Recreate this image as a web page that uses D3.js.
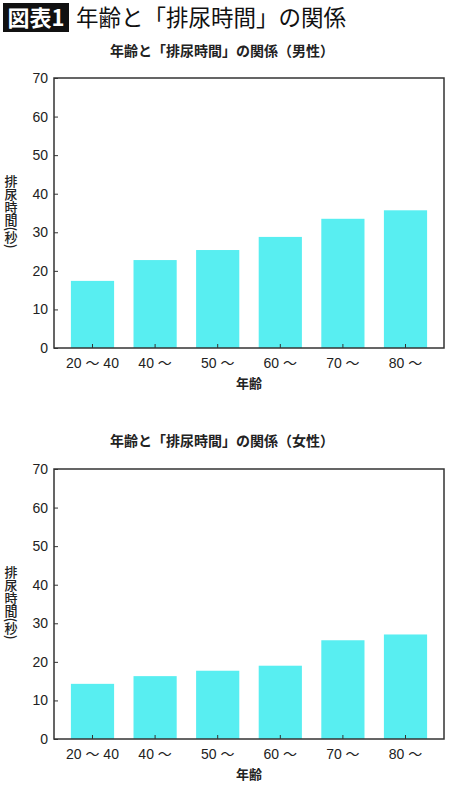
<!DOCTYPE html>
<html>
<head>
<meta charset="utf-8">
<script src="https://cdn.jsdelivr.net/npm/d3@7"></script>
<style>
  body { margin: 0; background: #fff; }
  svg { display: block; }
</style>
</head>
<body>
<svg id="chart" width="450" height="788"></svg>
<script>
'use strict';

var WIDTH = 450;
var HEIGHT = 788;

var categories = ["20 〜 40", "40 〜", "50 〜", "60 〜", "70 〜", "80 〜"];
var maleValues = [17.4, 22.8, 25.4, 28.8, 33.5, 35.7];
var femaleValues = [14.3, 16.3, 17.7, 19.0, 25.6, 27.1];
var yTicks = [0, 10, 20, 30, 40, 50, 60, 70];

var headerTag = "図表1";
var headerTitle = "年齢と「排尿時間」の関係";
var maleTitle = "年齢と「排尿時間」の関係（男性）";
var femaleTitle = "年齢と「排尿時間」の関係（女性）";
var yTitle = "排尿時間(秒)";
var xTitle = "年齢";

var JP = "'Noto Sans CJK JP', sans-serif";
var NUM = "'Liberation Sans', 'Noto Sans CJK JP', sans-serif";
var BAR_COLOR = "#58eef1";

var svg = d3.select("#chart");

// header
svg.append("rect")
.attr("x", 3).attr("y", 3)
.attr("width", 66).attr("height", 29)
.attr("fill", "#111");

svg.append("text")
.attr("x", 36).attr("y", 26)
.attr("text-anchor", "middle")
.attr("fill", "#fff")
.attr("font-family", JP)
.attr("font-weight", 700)
.attr("font-size", 22)
.text(headerTag);

svg.append("text")
.attr("x", 76).attr("y", 26)
.attr("fill", "#111")
.attr("font-family", JP)
.attr("font-weight", 400)
.attr("font-size", 22.5)
.text(headerTitle);

var x = d3.scaleBand()
.domain(categories)
.range([54, 444])
.paddingInner(0.31)
.paddingOuter(0.27);

function drawChart(title, values, titleY, yTop, yBottom)
{
  var y = d3.scaleLinear()
  .domain([0, 70])
  .range([yBottom, yTop]);

  var g = svg.append("g");

  g.append("text")
  .attr("x", 222).attr("y", titleY)
  .attr("text-anchor", "middle")
  .attr("font-family", JP)
  .attr("font-weight", 700)
  .attr("font-size", 14)
  .attr("fill", "#222")
  .text(title);

  g.selectAll("rect.bar")
  .data(values)
  .enter().append("rect")
  .attr("class", "bar")
  .attr("x", function(d, i){ return x(categories[i]); })
  .attr("y", function(d){ return y(d); })
  .attr("width", x.bandwidth())
  .attr("height", function(d){ return y(0) - y(d); })
  .attr("fill", BAR_COLOR);

  // y axis: ticks point inward
  var yAxis = g.append("g")
  .attr("transform", "translate(54,0)")
  .call(d3.axisRight(y).tickValues(yTicks).tickSize(4).tickFormat(""));
  yAxis.select(".domain").remove();
  yAxis.selectAll("line").attr("stroke", "#333");

  g.selectAll("text.ytick")
  .data(yTicks)
  .enter().append("text")
  .attr("class", "ytick")
  .attr("x", 48)
  .attr("y", function(d){ return y(d) + 5; })
  .attr("text-anchor", "end")
  .attr("font-family", NUM)
  .attr("font-size", 14)
  .attr("fill", "#222")
  .text(function(d){ return d; });

  // x axis: ticks point inward
  var xAxis = g.append("g")
  .attr("transform", "translate(0," + yBottom + ")")
  .call(d3.axisTop(x).tickSize(4).tickFormat(""));
  xAxis.select(".domain").remove();
  xAxis.selectAll("line").attr("stroke", "#333");

  g.selectAll("text.xtick")
  .data(categories)
  .enter().append("text")
  .attr("class", "xtick")
  .attr("x", function(d){ return x(d) + x.bandwidth() / 2; })
  .attr("y", yBottom + 20)
  .attr("text-anchor", "middle")
  .attr("font-family", NUM)
  .attr("font-size", 14)
  .attr("fill", "#222")
  .text(function(d){ return d; });

  // frame
  g.append("rect")
  .attr("x", 54).attr("y", yTop)
  .attr("width", 390).attr("height", yBottom - yTop)
  .attr("fill", "none")
  .attr("stroke", "#333")
  .attr("stroke-width", 1.5);

  g.append("text")
  .attr("x", 249).attr("y", yBottom + 40)
  .attr("text-anchor", "middle")
  .attr("font-family", JP)
  .attr("font-weight", 700)
  .attr("font-size", 13)
  .attr("fill", "#222")
  .text(xTitle);

  // vertical y title; half-width parens lie sideways
  g.append("text")
  .attr("x", 11).attr("y", y(45))
  .attr("font-family", JP)
  .attr("font-weight", 500)
  .attr("font-size", 13)
  .attr("fill", "#222")
  .style("writing-mode", "vertical-rl")
  .text(yTitle);
}

drawChart(maleTitle, maleValues, 56, 78, 348);
drawChart(femaleTitle, femaleValues, 446, 469, 739);
</script>
</body>
</html>
